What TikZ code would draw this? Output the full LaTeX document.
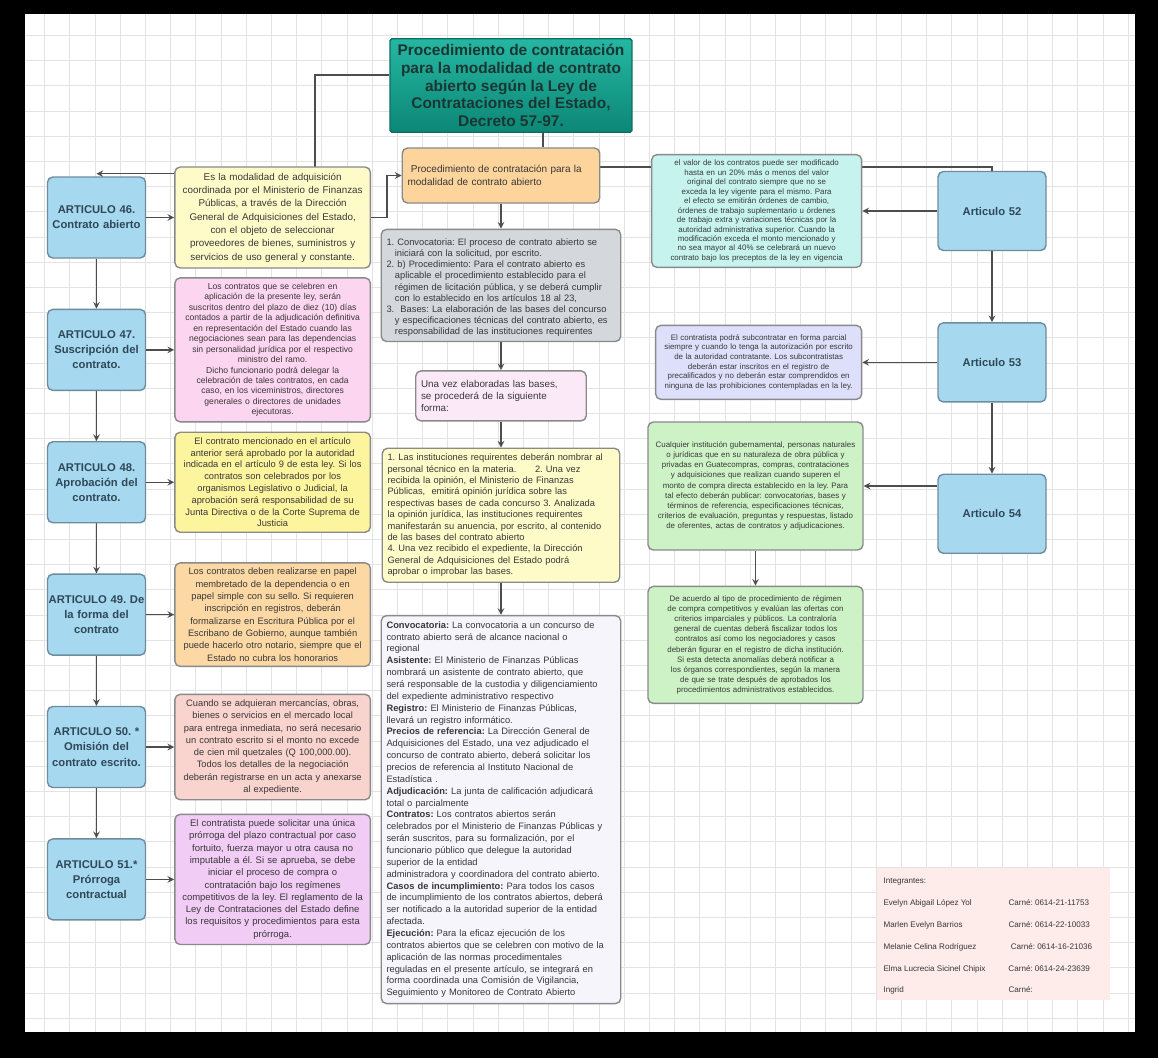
\documentclass[tikz,border=0pt]{standalone}
\usepackage{fontspec}
\setmainfont{Liberation Sans}
\usepackage{xcolor}
\usepackage{tikz}
\usetikzlibrary{shapes.geometric, arrows, positioning, calc}

\definecolor{sheetgrid}{HTML}{E3E3E3}
\definecolor{artblue}{HTML}{A6D8F0}
\definecolor{artline}{HTML}{6F8C9E}
\definecolor{arttext}{HTML}{2F4858}
\definecolor{tealtop}{HTML}{25B7A2}
\definecolor{tealbot}{HTML}{0C8776}
\definecolor{tealline}{HTML}{0B6E60}
\definecolor{titletext}{HTML}{1B3632}
\definecolor{boxline}{HTML}{8A8A8A}
\definecolor{bodytext}{HTML}{383838}
\definecolor{paleyellow}{HTML}{FEFBC9}
\definecolor{pinkbox}{HTML}{FCD5F0}
\definecolor{brightyellow}{HTML}{FDF49E}
\definecolor{peach}{HTML}{FCD8A5}
\definecolor{salmonbox}{HTML}{F9D3CE}
\definecolor{lilac}{HTML}{F1CCF5}
\definecolor{procorange}{HTML}{FDD49C}
\definecolor{stepgray}{HTML}{D4D7DC}
\definecolor{softpink}{HTML}{FBE9F8}
\definecolor{lightlav}{HTML}{F5F5FB}
\definecolor{aqua}{HTML}{C6F3EE}
\definecolor{lavender}{HTML}{DEDFFA}
\definecolor{mint}{HTML}{CDF2C5}
\definecolor{blush}{HTML}{FDECEA}
\definecolor{linegray}{HTML}{4D4D4D}

\newcommand{\stepitem}[1]{\par\hangindent=0.9em\hangafter=1 #1\par}

\pgfdeclarelayer{grid}
\pgfdeclarelayer{behind}
\pgfsetlayers{grid,behind,main}

\begin{document}
\hyphenpenalty=10000
\exhyphenpenalty=10000
\frenchspacing
\begin{tikzpicture}[
    x=0.02cm, y=-0.02cm,
    node distance=1cm,
    article/.style={rectangle, rounded corners=3pt, text width=1.86cm, inner xsep=0.05cm, minimum height=1.62cm, align=center, draw=artline, line width=0.8pt, fill=artblue, text=arttext, font=\fontsize{6.4}{8.6}\selectfont\bfseries},
    note/.style={rectangle, rounded corners=3pt, text width=3.7cm, minimum height=2cm, align=center, draw=boxline, line width=0.8pt, text=bodytext, inner sep=3pt, font=\fontsize{5.4}{7}\selectfont},
    small/.style={note, text width=3.85cm, font=\fontsize{4.5}{5.5}\selectfont},
    heading/.style={rectangle, rounded corners=1pt, minimum width=4.84cm, minimum height=1.82cm, align=center, draw=tealline, line width=0.8pt, top color=tealtop, bottom color=tealbot, text=titletext, font=\fontsize{8.8}{10}\selectfont\bfseries},
    arrow/.style={thick,->,>=stealth, draw=linegray, line width=0.7pt},
    link/.style={draw=linegray, line width=0.7pt}
]
    \begin{pgfonlayer}{grid}
        \fill[black] (0,0) rectangle (1158,1058);
        \fill[white] (25,14) rectangle (1135,1032);
        \begin{scope}
            \clip (25,14) rectangle (1135,1032);
            \foreach \i in {0,...,43} \draw[sheetgrid, line width=0.5pt] ({44.6+25.2*\i},14) -- ({44.6+25.2*\i},1032);
            \foreach \j in {0,...,40} \draw[sheetgrid, line width=0.5pt] (25,{10.2+25.2*\j}) -- (1135,{10.2+25.2*\j});
        \end{scope}
    \end{pgfonlayer}
    \useasboundingbox (0,0) rectangle (1158,1058);

    \node (title) [heading] at (511,85.5) {Procedimiento de contratación\\para la modalidad de contrato\\abierto según la Ley de\\Contrataciones del Estado,\\Decreto 57-97.};

    \node (art46) [article] at (96.5,217.5) {ARTICULO 46.\\Contrato abierto};
    \node (art47) [article, below=of art46] {ARTICULO 47.\\Suscripción del\\contrato.};
    \node (art48) [article, below=of art47] {ARTICULO 48.\\Aprobación del\\contrato.};
    \node (art49) [article, below=of art48] {\makebox[\linewidth]{ARTICULO 49. De}\\la forma del\\contrato};
    \node (art50) [article, below=of art49] {ARTICULO 50. *\\Omisión del\\contrato escrito.};
    \node (art51) [article, below=of art50] {ARTICULO 51.*\\Prórroga\\contractual};

    \node (d46) [note, fill=paleyellow, right=0.56cm of art46, minimum height=2.02cm, font=\fontsize{5.6}{7.6}\selectfont] {Es la modalidad de adquisición\\coordinada por el Ministerio de Finanzas\\Públicas, a través de la Dirección\\General de Adquisiciones del Estado,\\con el objeto de seleccionar\\proveedores de bienes, suministros y\\servicios de uso general y constante.};
    \node (d47) [note, fill=pinkbox, right=0.56cm of art47, minimum height=2.8cm, font=\fontsize{4.9}{5.95}\selectfont] {Los contratos que se celebren en\\aplicación de la presente ley, serán\\suscritos dentro del plazo de diez (10) días\\contados a partir de la adjudicación definitiva\\en representación del Estado cuando las\\negociaciones sean para las dependencias\\sin personalidad jurídica por el respectivo\\ministro del ramo.\\Dicho funcionario podrá delegar la\\celebración de tales contratos, en cada\\caso, en los viceministros, directores\\generales o directores de unidades\\ejecutoras.};
    \node (d48) [note, fill=brightyellow, right=0.56cm of art48, minimum height=2cm, font=\fontsize{5.3}{6.7}\selectfont] {El contrato mencionado en el artículo\\anterior será aprobado por la autoridad\\indicada en el artículo 9 de esta ley. Si los\\contratos son celebrados por los\\organismos Legislativo o Judicial, la\\aprobación será responsabilidad de su\\Junta Directiva o de la Corte Suprema de\\Justicia};
    \node (d49) [note, fill=peach, right=0.56cm of art49, minimum height=2cm, font=\fontsize{5.3}{7}\selectfont] {Los contratos deben realizarse en papel\\membretado de la dependencia o en\\papel simple con su sello. Si requieren\\inscripción en registros, deberán\\formalizarse en Escritura Pública por el\\Escribano de Gobierno, aunque también\\puede hacerlo otro notario, siempre que el\\Estado no cubra los honorarios};
    \node (d50) [note, fill=salmonbox, right=0.56cm of art50, minimum height=2.02cm, font=\fontsize{5.3}{7}\selectfont] {Cuando se adquieran mercancías, obras,\\bienes o servicios en el mercado local\\para entrega inmediata, no será necesario\\un contrato escrito si el monto no excede\\de cien mil quetzales (Q 100,000.00).\\Todos los detalles de la negociación\\deberán registrarse en un acta y anexarse\\al expediente.};
    \node (d51) [note, fill=lilac, right=0.56cm of art51, minimum height=2.58cm, font=\fontsize{5.4}{7}\selectfont] {El contratista puede solicitar una única\\prórroga del plazo contractual por caso\\fortuito, fuerza mayor u otra causa no\\imputable a él. Si se aprueba, se debe\\iniciar el proceso de compra o\\contratación bajo los regímenes\\competitivos de la ley. El reglamento de la\\Ley de Contrataciones del Estado define\\los requisitos y procedimientos para esta\\prórroga.};

    \node (proc) [note, fill=procorange, text width=3.74cm, minimum height=1.1cm, align=left, font=\fontsize{5.7}{7.4}\selectfont] at (501,175.5) {\ Procedimiento de contratación para la\\modalidad de contrato abierto\\[3pt]};
    \node (steps) [note, fill=stepgray, below=0.5cm of proc, text width=4.58cm, minimum height=2.24cm, align=left, font=\fontsize{5.3}{6.3}\selectfont] {\stepitem{1. Convocatoria: El proceso de contrato abierto se iniciará con la solicitud, por escrito.}\stepitem{2. b) Procedimiento: Para el contrato abierto es aplicable el procedimiento establecido para el régimen de licitación pública, y se deberá cumplir con lo establecido en los artículos 18 al 23,}\stepitem{3.\ \ Bases: La elaboración de las bases del concurso y especificaciones técnicas del contrato abierto, es responsabilidad de las instituciones requirentes}};
    \node (form) [note, fill=softpink, below=0.56cm of steps, text width=3.2cm, minimum height=1cm, align=left, font=\fontsize{5.6}{7}\selectfont] {Una vez elaboradas las bases,\\se procederá de la siguiente\\forma:};
    \node (bases) [note, fill=paleyellow, below=0.52cm of form, text width=4.54cm, minimum height=2.68cm, align=left, font=\fontsize{5.3}{6.5}\selectfont] {1. Las instituciones requirentes deberán nombrar al\\personal técnico en la materia.\qquad 2. Una vez\\recibida la opinión, el Ministerio de Finanzas\\Públicas,\ \ emitirá opinión jurídica sobre las\\respectivas bases de cada concurso 3. Analizada\\la opinión jurídica, las instituciones requirentes\\manifestarán su anuencia, por escrito, al contenido\\de las bases del contrato abierto\\4. Una vez recibido el expediente, la Dirección\\General de Adquisiciones del Estado podrá\\aprobar o improbar las bases.};
    \node (detail) [note, fill=lightlav, below=0.64cm of bases, text width=4.58cm, minimum height=7.76cm, align=left, font=\fontsize{5.3}{6.75}\selectfont] {\textbf{Convocatoria:} La convocatoria a un concurso de\\contrato abierto será de alcance nacional o\\regional\\\textbf{Asistente:} El Ministerio de Finanzas Públicas\\nombrará un asistente de contrato abierto, que\\será responsable de la custodia y diligenciamiento\\del expediente administrativo respectivo\\\textbf{Registro:} El Ministerio de Finanzas Públicas,\\llevará un registro informático.\\\textbf{Precios de referencia:} La Dirección General de\\Adquisiciones del Estado, una vez adjudicado el\\concurso de contrato abierto, deberá solicitar los\\precios de referencia al Instituto Nacional de\\Estadística .\\\textbf{Adjudicación:} La junta de calificación adjudicará\\total o parcialmente\\\textbf{Contratos:} Los contratos abiertos serán\\celebrados por el Ministerio de Finanzas Públicas y\\serán suscritos, para su formalización, por el\\funcionario público que delegue la autoridad\\superior de la entidad\\administradora y coordinadora del contrato abierto.\\\textbf{Casos de incumplimiento:} Para todos los casos\\de incumplimiento de los contratos abiertos, deberá\\ser notificado a la autoridad superior de la entidad\\afectada.\\\textbf{Ejecución:} Para la eficaz ejecución de los\\contratos abiertos que se celebren con motivo de la\\aplicación de las normas procedimentales\\reguladas en el presente artículo, se integrará en\\forma coordinada una Comisión de Vigilancia,\\Seguimiento y Monitoreo de Contrato Abierto};

    \node (art52) [article, minimum width=2.16cm, minimum height=1.58cm] at (992,211) {Articulo 52};
    \node (art53) [article, minimum width=2.16cm, minimum height=1.58cm, below=1.42cm of art52] {Articulo 53};
    \node (art54) [article, minimum width=2.16cm, minimum height=1.58cm, below=1.42cm of art53] {Articulo 54};

    \node (d52) [small, fill=aqua, left=1.5cm of art52, minimum width=4.2cm, minimum height=2.2cm, text width=3.7cm, font=\fontsize{4.5}{5.4}\selectfont] {el valor de los contratos puede ser modificado hasta en un 20\% más o menos del valor original del contrato siempre que no se exceda la ley vigente para el mismo. Para el efecto se emitirán órdenes de cambio, órdenes de trabajo suplementario u órdenes de trabajo extra y variaciones técnicas por la autoridad administrativa superior. Cuando la modificación exceda el monto mencionado y no sea mayor al 40\% se celebrará un nuevo contrato bajo los preceptos de la ley en vigencia};
    \node (d53) [small, fill=lavender, left=1.5cm of art53, minimum width=4.12cm, minimum height=1.48cm] {El contratista podrá subcontratar en forma parcial siempre y cuando lo tenga la autorización por escrito de la autoridad contratante. Los subcontratistas deberán estar inscritos en el registro de precalificados y no deberán estar comprendidos en ninguna de las prohibiciones contempladas en la ley.};
    \node (d54) [small, fill=mint, text width=4.0cm, minimum width=4.3cm, minimum height=2.56cm, font=\fontsize{4.5}{5.8}\selectfont] at (755.5,486) {Cualquier institución gubernamental, personas naturales o jurídicas que en su naturaleza de obra pública y privadas en Guatecompras, compras, contrataciones y adquisiciones que realizan cuando superen el monto de compra directa establecido en la ley. Para tal efecto deberán publicar: convocatorias, bases y términos de referencia, especificaciones técnicas, criterios de evaluación, preguntas y respuestas, listado de oferentes, actas de contratos y adjudicaciones.};
    \node (d54b) [small, fill=mint, text width=3.9cm, minimum width=4.3cm, minimum height=2.34cm, below=0.7cm of d54, font=\fontsize{4.5}{5.8}\selectfont] {De acuerdo al tipo de procedimiento de régimen de compra competitivos y evalúan las ofertas con criterios imparciales y públicos. La contraloría general de cuentas deberá fiscalizar todos los contratos así como los negociadores y casos deberán figurar en el registro de dicha institución. Si esta detecta anomalías deberá notificar a los órganos correspondientes, según la manera de que se trate después de aprobados los procedimientos administrativos establecidos.};

    \node (team) [rectangle, fill=blush, minimum width=4.66cm, minimum height=2.64cm, inner sep=0pt, text=bodytext, font=\fontsize{4.6}{12.4}\selectfont] at (993.5,934) {\begin{tabular}{@{}p{2.5cm}@{}p{1.9cm}@{}}Integrantes: & \\ Evelyn Abigail López Yol & Carné: 0614-21-11753\\ Marlen Evelyn Barrios & Carné: 0614-22-10033\\ Melanie Celina Rodríguez & \ Carné: 0614-16-21036\\ Elma Lucrecia Sicinel Chipix & Carné: 0614-24-23639\\ Ingrid & Carné:\end{tabular}};

    \coordinate (t1) at (315,75);
    \coordinate (t2) at (543,75);
    \coordinate (t3) at (992,167);

    \begin{pgfonlayer}{behind}
    \draw [arrow] (title.west |- t1) -- (t1) |- ([yshift=1.5pt]art46.north);
    \draw [link] (t2) -- (t2 |- proc.north);
    \draw [link] (proc.east |- t3) -| (art52.north);
    \draw [arrow] (art46) -- (art47);
    \draw [arrow] (art47) -- (art48);
    \draw [arrow] (art48) -- (art49);
    \draw [arrow] (art49) -- (art50);
    \draw [arrow] (art50) -- (art51);
    \draw [arrow] (art46) -- (d46);
    \draw [arrow] (art47) -- (d47);
    \draw [arrow] (art48) -- (d48);
    \draw [arrow] (art49) -- (d49);
    \draw [arrow] (art50) -- (d50);
    \draw [arrow] (art51) -- (d51);
    \draw [arrow] (d46.east) -- ++(16,0) |- (proc.west);
    \draw [arrow] (proc) -- (steps);
    \draw [arrow] (steps) -- (form);
    \draw [arrow] (form) -- (bases);
    \draw [arrow] (bases) -- (detail);
    \draw [arrow] (art52) -- (art53);
    \draw [arrow] (art53) -- (art54);
    \draw [arrow] (art52) -- (d52);
    \draw [arrow] (art53) -- (d53);
    \draw [arrow] (art54.west |- d54.east) -- (d54.east);
    \draw [arrow] (d54) -- (d54b);
    \end{pgfonlayer}
\end{tikzpicture}
\end{document}
